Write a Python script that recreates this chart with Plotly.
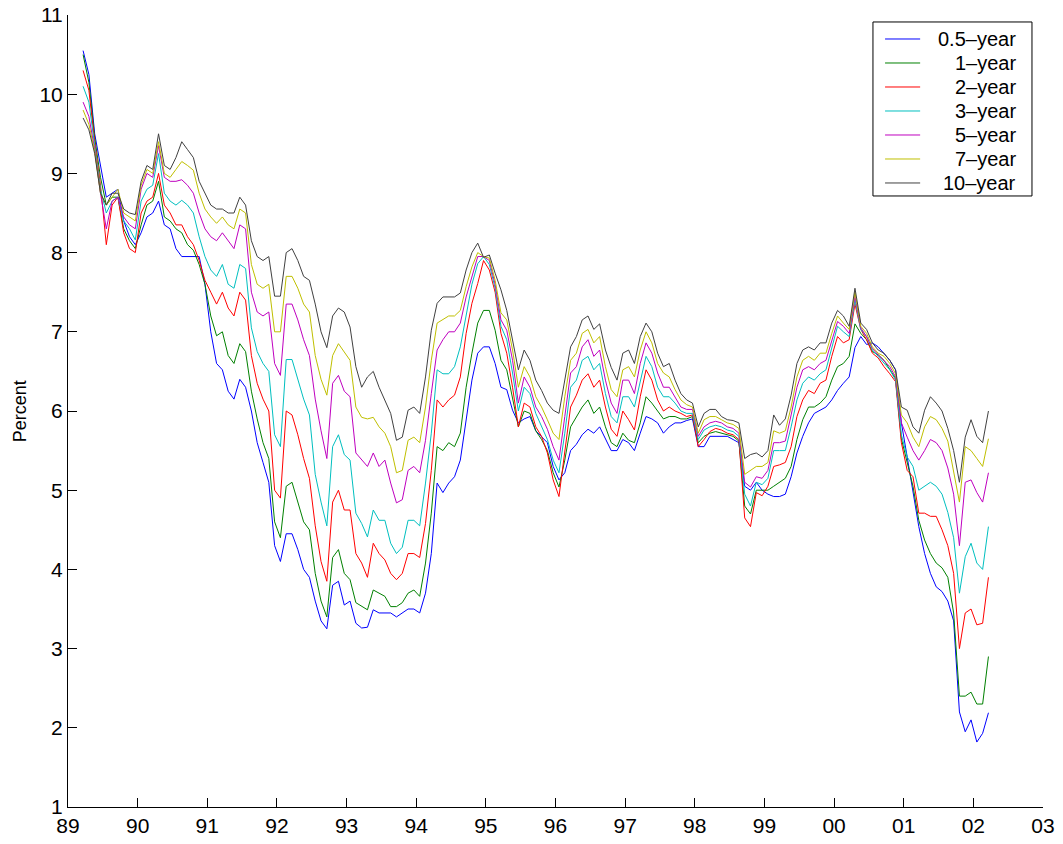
import plotly.graph_objects as go

# monthly readings, Mar 1989 .. Mar 2002
months = [(1989, m) for m in range(3, 13)] \
    + [(y, m) for y in range(1990, 2002) for m in range(1, 13)] \
    + [(2002, m) for m in (1, 2, 3)]
dates = [y + (m - 0.4) / 12 for y, m in months]

year_ticks = list(range(1989, 2004))
year_labels = ["89", "90", "91", "92", "93", "94", "95", "96", "97", "98", "99", "00", "01", "02", "03"]

y_half = [
    10.55, 10.25, 9.5, 9.1, 8.7, 8.75, 8.8, 8.4, 8.2, 8.1,
    8.25, 8.45, 8.5, 8.65, 8.35, 8.3, 8.05, 7.95, 7.95, 7.95, 7.95, 7.6,
    7.0, 6.6, 6.52, 6.25, 6.15, 6.4, 6.3, 6.0, 5.6, 5.35, 5.1, 4.3,
    4.1, 4.45, 4.45, 4.25, 4.0, 3.9, 3.6, 3.35, 3.25, 3.8, 3.85, 3.55,
    3.6, 3.32, 3.26, 3.27, 3.49, 3.45, 3.45, 3.45, 3.4, 3.45, 3.5, 3.5,
    3.45, 3.7, 4.2, 5.09, 4.97, 5.09, 5.17, 5.38, 5.89, 6.39, 6.73, 6.81,
    6.81, 6.6, 6.3, 6.27, 6.01, 5.85, 5.9, 5.93, 5.75, 5.68, 5.6, 5.3,
    5.13, 5.22, 5.5, 5.58, 5.7, 5.77, 5.72, 5.8, 5.64, 5.5, 5.5, 5.64,
    5.6, 5.5, 5.72, 5.93, 5.9, 5.85, 5.72, 5.8, 5.85, 5.85, 5.88, 5.9,
    5.55, 5.55, 5.68, 5.68, 5.68, 5.68, 5.64, 5.6, 5.05, 5.0, 5.1, 5.0,
    4.95, 4.92, 4.92, 4.95, 5.17, 5.47, 5.68, 5.85, 5.97, 6.01, 6.05, 6.14,
    6.26, 6.35, 6.43, 6.8, 6.94, 6.84, 6.86, 6.81, 6.73, 6.64, 6.52, 5.85,
    5.42, 4.97, 4.54, 4.2, 3.95, 3.78, 3.72, 3.6, 3.35, 2.2, 1.95, 2.1,
    1.82, 1.93, 2.19,
]
y_1 = [
    10.5, 10.15, 9.45, 8.95, 8.6, 8.7, 8.7, 8.3, 8.15, 8.05,
    8.35, 8.6, 8.65, 8.9, 8.45, 8.4, 8.3, 8.25, 8.1, 8.03, 7.85, 7.6,
    7.2, 6.95, 7.0, 6.7, 6.6, 6.85, 6.75, 6.25, 5.9, 5.6, 5.4, 4.6,
    4.4, 5.05, 5.1, 4.85, 4.6, 4.5, 3.95, 3.6, 3.4, 4.15, 4.25, 3.95,
    3.87, 3.58, 3.53, 3.49, 3.74, 3.7, 3.66, 3.53, 3.53, 3.58, 3.7, 3.74,
    3.66, 4.08, 4.71, 5.55, 5.5, 5.6, 5.55, 5.72, 6.3, 6.73, 7.11, 7.27,
    7.27, 7.02, 6.64, 6.52, 6.14, 5.8, 6.0, 5.97, 5.75, 5.64, 5.5, 5.22,
    5.04, 5.38, 5.8, 5.93, 6.05, 6.14, 5.97, 6.05, 5.8, 5.6, 5.55, 5.72,
    5.63, 5.6, 5.85, 6.18, 6.1, 6.0, 5.9, 5.93, 5.93, 5.9, 5.9, 5.93,
    5.6, 5.68, 5.72, 5.74, 5.72, 5.7, 5.68, 5.62, 4.8, 4.7, 5.0, 5.0,
    5.0, 5.05, 5.1, 5.15, 5.3, 5.64, 5.89, 6.05, 6.05, 6.1, 6.18, 6.39,
    6.56, 6.6, 6.69, 7.1, 6.98, 6.9, 6.75, 6.71, 6.64, 6.52, 6.41, 5.65,
    5.33, 5.05, 4.62, 4.37, 4.2, 4.08, 4.02, 3.9, 3.45, 2.4, 2.4, 2.45,
    2.3, 2.3, 2.9,
]
y_2 = [
    10.3, 10.05, 9.4, 8.85, 8.1, 8.6, 8.7, 8.25, 8.05, 8.0,
    8.5, 8.65, 8.7, 9.0, 8.6, 8.5, 8.35, 8.35, 8.2, 8.1, 7.9, 7.65,
    7.5, 7.35, 7.5, 7.3, 7.2, 7.5, 7.4, 6.7, 6.35, 6.15, 6.0, 5.0,
    4.9, 6.0, 5.95, 5.7, 5.4, 5.15, 4.55, 4.1, 3.85, 4.85, 5.0, 4.75,
    4.75, 4.2, 4.08, 3.9, 4.33, 4.2, 4.12, 3.95, 3.87, 3.95, 4.2, 4.2,
    4.15, 4.58, 5.25, 6.14, 6.05, 6.14, 6.2, 6.43, 6.98, 7.36, 7.61, 7.9,
    7.78, 7.5, 6.98, 6.73, 6.3, 5.8, 6.1, 6.05, 5.8, 5.68, 5.47, 5.13,
    4.92, 5.5, 6.05, 6.2, 6.39, 6.47, 6.3, 6.39, 6.05, 5.77, 5.68, 6.0,
    5.89, 5.76, 6.18, 6.52, 6.39, 6.14, 6.0, 6.05, 6.0, 5.97, 5.93, 5.95,
    5.55, 5.64, 5.74, 5.78, 5.76, 5.72, 5.7, 5.64, 4.65, 4.54, 4.97, 4.93,
    5.05, 5.3, 5.32, 5.35, 5.55, 5.93, 6.14, 6.26, 6.22, 6.35, 6.39, 6.69,
    6.94, 6.86, 6.9, 7.35, 7.03, 6.9, 6.73, 6.67, 6.56, 6.47, 6.37, 5.6,
    5.25, 5.17, 4.71, 4.71, 4.67, 4.67, 4.5, 4.3, 3.95, 3.0, 3.45, 3.5,
    3.3, 3.32, 3.9,
]
y_3 = [
    10.1, 9.9, 9.35, 8.8, 8.5, 8.65, 8.7, 8.4, 8.3, 8.16,
    8.65, 8.8, 8.85, 9.25, 8.75, 8.65, 8.6, 8.66, 8.6, 8.5, 8.2, 7.95,
    7.78, 7.7, 7.85, 7.6, 7.55, 7.85, 7.8, 7.05, 6.75, 6.6, 6.5, 5.7,
    5.55, 6.65, 6.65, 6.4, 6.15, 5.95, 5.2, 4.85, 4.55, 5.55, 5.7, 5.45,
    5.38, 4.71, 4.58, 4.41, 4.75, 4.62, 4.62, 4.33, 4.2, 4.28, 4.62, 4.62,
    4.55, 5.09, 5.72, 6.52, 6.47, 6.47, 6.56, 6.81, 7.19, 7.6, 7.86, 7.95,
    7.85, 7.55, 7.07, 6.9, 6.48, 6.0, 6.3, 6.22, 5.97, 5.8, 5.64, 5.38,
    5.22, 5.72, 6.3, 6.39, 6.64, 6.69, 6.52, 6.6, 6.22, 5.93, 5.85, 6.18,
    6.18, 6.05, 6.39, 6.69, 6.56, 6.3, 6.18, 6.18, 6.1, 6.0, 5.97, 5.97,
    5.64, 5.76, 5.8, 5.82, 5.8, 5.76, 5.74, 5.68, 4.95, 4.8, 5.1, 5.07,
    5.15, 5.5, 5.5, 5.5, 5.8, 6.14, 6.35, 6.43, 6.39, 6.47, 6.52, 6.81,
    7.07, 7.0, 6.94, 7.4, 7.03, 6.94, 6.77, 6.69, 6.6, 6.52, 6.39, 5.7,
    5.42, 5.3, 5.0, 5.05, 5.1, 5.05, 4.95, 4.72, 4.4, 3.7, 4.16, 4.33,
    4.08, 4.0, 4.54,
]
y_5 = [
    9.9, 9.72, 9.3, 8.75, 8.3, 8.65, 8.7, 8.45, 8.35, 8.3,
    8.8, 9.0, 8.95, 9.35, 8.95, 8.9, 8.9, 8.92, 8.85, 8.75, 8.5, 8.3,
    8.2, 8.15, 8.25, 8.15, 8.05, 8.35, 8.3, 7.5, 7.25, 7.2, 7.25, 6.6,
    6.45, 7.35, 7.35, 7.15, 6.9, 6.7, 6.15, 5.75, 5.4, 6.35, 6.45, 6.25,
    6.18, 5.47, 5.38, 5.3, 5.47, 5.3, 5.38, 5.09, 4.84, 4.88, 5.25, 5.3,
    5.22, 5.63, 6.22, 6.77, 6.9, 7.0, 7.0, 7.11, 7.44, 7.7, 7.95, 7.95,
    7.9, 7.6, 7.15, 7.02, 6.64, 6.1, 6.43, 6.3, 6.05, 5.93, 5.77, 5.55,
    5.38, 5.93, 6.48, 6.56, 6.81, 6.9, 6.69, 6.77, 6.39, 6.1, 5.97, 6.39,
    6.39, 6.22, 6.6, 6.86, 6.73, 6.48, 6.3, 6.3, 6.18, 6.05, 6.02, 6.02,
    5.68, 5.8, 5.85, 5.87, 5.85, 5.8, 5.78, 5.72, 5.1, 5.04, 5.17, 5.15,
    5.25, 5.6, 5.6, 5.62, 5.95, 6.3, 6.52, 6.56, 6.52, 6.6, 6.64, 6.9,
    7.13, 7.07, 6.98, 7.45, 7.05, 6.94, 6.79, 6.71, 6.64, 6.56, 6.43, 5.85,
    5.67, 5.5, 5.38, 5.5, 5.64, 5.6, 5.5, 5.28, 4.95, 4.3, 5.1, 5.13,
    4.97, 4.85, 5.22,
]
y_7 = [
    9.8, 9.62, 9.28, 8.75, 8.6, 8.7, 8.8, 8.5, 8.45, 8.4,
    8.85, 9.05, 9.0, 9.4, 9.0, 8.95, 9.05, 9.15, 9.1, 9.04, 8.75, 8.55,
    8.45, 8.37, 8.45, 8.35, 8.3, 8.55, 8.5, 7.85, 7.6, 7.55, 7.6, 7.0,
    7.0, 7.7, 7.7, 7.55, 7.35, 7.25, 6.7, 6.4, 6.2, 6.7, 6.85, 6.75,
    6.64, 6.05, 5.92, 5.9, 5.92, 5.8, 5.72, 5.55, 5.22, 5.25, 5.63, 5.67,
    5.6, 6.05, 6.64, 7.11, 7.15, 7.2, 7.2, 7.27, 7.57, 7.82, 8.0, 7.95,
    7.93, 7.65, 7.24, 7.15, 6.77, 6.3, 6.56, 6.43, 6.18, 6.05, 5.89, 5.72,
    5.64, 6.18, 6.64, 6.73, 6.98, 7.03, 6.86, 6.94, 6.56, 6.27, 6.18, 6.52,
    6.56, 6.43, 6.77, 7.0, 6.86, 6.6, 6.48, 6.43, 6.27, 6.14, 6.08, 6.05,
    5.72, 5.89, 5.93, 5.93, 5.89, 5.85, 5.83, 5.78, 5.2, 5.25, 5.3, 5.3,
    5.35, 5.75, 5.72, 5.75, 6.05, 6.43, 6.64, 6.69, 6.64, 6.73, 6.73, 6.98,
    7.2, 7.11, 7.03, 7.5, 7.07, 6.98, 6.81, 6.73, 6.69, 6.6, 6.47, 5.95,
    5.85, 5.67, 5.55, 5.8, 5.93, 5.89, 5.78, 5.62, 5.25, 4.85, 5.55, 5.5,
    5.4, 5.3, 5.65,
]
y_10 = [
    9.7, 9.55, 9.25, 8.75, 8.6, 8.75, 8.75, 8.55, 8.5, 8.48,
    8.9, 9.1, 9.05, 9.5, 9.1, 9.05, 9.2, 9.4, 9.3, 9.2, 8.9, 8.75,
    8.6, 8.55, 8.55, 8.5, 8.5, 8.7, 8.6, 8.15, 7.95, 7.9, 7.95, 7.45,
    7.45, 8.0, 8.05, 7.9, 7.7, 7.65, 7.35, 7.0, 6.8, 7.2, 7.3, 7.25,
    7.06, 6.56, 6.3, 6.43, 6.5, 6.3, 6.14, 5.97, 5.63, 5.67, 6.01, 6.05,
    5.97, 6.43, 7.02, 7.36, 7.44, 7.44, 7.44, 7.49, 7.78, 8.0, 8.12, 7.94,
    7.97, 7.74, 7.53, 7.27, 6.9, 6.52, 6.77, 6.64, 6.39, 6.26, 6.1, 6.01,
    5.97, 6.39, 6.81, 6.94, 7.15, 7.2, 7.03, 7.1, 6.77, 6.55, 6.39, 6.73,
    6.77, 6.6, 6.94, 7.11, 7.0, 6.73, 6.56, 6.6, 6.39, 6.22, 6.14, 6.1,
    5.8, 5.97, 6.02, 6.02, 5.93, 5.89, 5.88, 5.85, 5.4, 5.45, 5.47, 5.42,
    5.5, 5.95, 5.82, 5.9, 6.2, 6.6, 6.77, 6.81, 6.77, 6.86, 6.86, 7.11,
    7.27, 7.2, 7.07, 7.55, 7.11, 7.03, 6.86, 6.77, 6.73, 6.64, 6.52, 6.05,
    6.01, 5.8, 5.72, 6.01, 6.18, 6.1, 6.0, 5.78, 5.5, 5.1, 5.67, 5.89,
    5.68, 5.6, 6.0,
]

series = [
    ("0.5\u2013year", y_half, "rgb(0,0,255)"),
    ("1\u2013year", y_1, "rgb(0,128,0)"),
    ("2\u2013year", y_2, "rgb(255,0,0)"),
    ("3\u2013year", y_3, "rgb(0,191,191)"),
    ("5\u2013year", y_5, "rgb(191,0,191)"),
    ("7\u2013year", y_7, "rgb(191,191,0)"),
    ("10\u2013year", y_10, "rgb(64,64,64)"),
]

font = "Liberation Sans, Arial, sans-serif"
fig = go.Figure()
for name, vals, color in series:
    fig.add_trace(go.Scatter(x=dates, y=vals, mode="lines", name=name,
                             line=dict(color=color, width=1), showlegend=False))

# matlab-style legend box, top right, text right aligned
leg_x0, leg_x1, leg_top, leg_bot = 0.8256, 0.9887, 0.9912, 0.7715
row0, row_step = 0.9697, 0.0303
fig.add_shape(type="rect", xref="paper", yref="paper", x0=leg_x0, x1=leg_x1,
              y0=leg_bot, y1=leg_top, line=dict(color="black", width=1),
              fillcolor="white", layer="above")
for i, (name, vals, color) in enumerate(series):
    yy = row0 - i * row_step
    fig.add_shape(type="line", xref="paper", yref="paper", x0=0.838, x1=0.874,
                  y0=yy, y1=yy, line=dict(color=color, width=1), layer="above")
    fig.add_annotation(text=name, xref="paper", yref="paper", x=0.9744, y=yy,
                       xanchor="right", yanchor="middle", showarrow=False,
                       font=dict(size=20))

fig.update_layout(
    width=1063, height=844,
    margin=dict(l=68, r=20, t=15, b=37, autoexpand=False),
    paper_bgcolor="white", plot_bgcolor="white",
    font=dict(family=font, size=21, color="black"),
    showlegend=False,
)
fig.update_xaxes(range=[1989, 2003], tickvals=year_ticks, ticktext=year_labels,
                 ticks="inside", ticklen=9, tickcolor="black", showgrid=False,
                 zeroline=False, showline=True, linecolor="black", linewidth=1,
                 automargin=False)
fig.update_yaxes(range=[1, 11], tickvals=list(range(1, 12)), ticks="inside",
                 ticklen=9, tickcolor="black", showgrid=False, zeroline=False,
                 showline=True, linecolor="black", linewidth=1, automargin=False)
fig.add_annotation(text="Percent", xref="paper", yref="paper", x=-0.049, y=0.5,
                   xanchor="center", yanchor="middle", textangle=-90,
                   showarrow=False, font=dict(size=18))

# page has no body margin so the figure sits at the window corner
fig.write_html("out.html", config={"displayModeBar": False},
               post_script="document.body.style.margin='0';")
